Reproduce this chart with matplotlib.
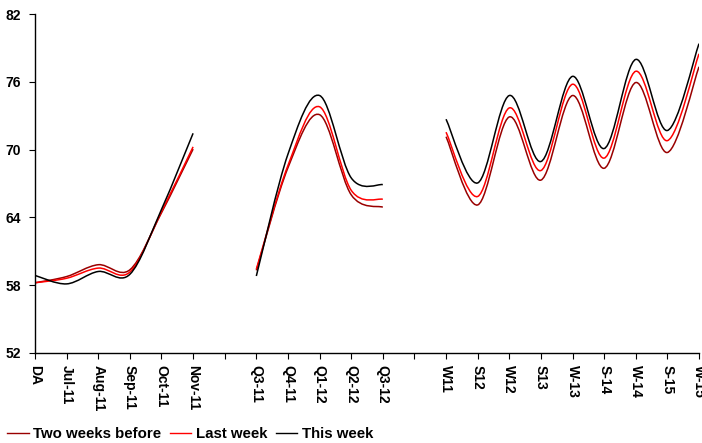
import matplotlib
matplotlib.use('Agg')
import matplotlib.pyplot as plt
from matplotlib.path import Path
from matplotlib.patches import PathPatch
from matplotlib.lines import Line2D

plt.rcParams['font.family'] = ['Liberation Sans', 'DejaVu Sans']
plt.rcParams['font.weight'] = 'bold'

categorias = ['DA', 'Jul-11', 'Aug-11', 'Sep-11', 'Oct-11', 'Nov-11', '',
              'Q3-11', 'Q4-11', 'Q1-12', 'Q2-12', 'Q3-12', '',
              'W11', 'S12', 'W12', 'S13', 'W-13', 'S-14', 'W-14', 'S-15', 'W-15']

duas_semanas = [58.2, 58.75, 59.8, 59.35, 64.4, 70.05, None,
                59.3, 68.4, 73.1, 66.0, 64.9, None,
                71.15, 65.1, 72.9, 67.3, 74.8, 68.35, 75.95, 69.75, 77.35]
semana_passada = [58.2, 58.6, 59.5, 59.15, 64.5, 70.25, None,
                  59.4, 68.6, 73.8, 66.4, 65.6, None,
                  71.55, 65.85, 73.7, 68.15, 75.8, 69.25, 76.95, 70.8, 78.5]
esta_semana = [58.85, 58.1, 59.2, 58.95, 64.7, 71.45, None,
               58.8, 69.6, 74.8, 67.5, 66.9, None,
               72.7, 67.05, 74.8, 68.95, 76.5, 70.1, 78.0, 71.7, 79.4]

series = [('Two weeks before', duas_semanas, '#990000'),
          ('Last week', semana_passada, '#FF0000'),
          ('This week', esta_semana, '#000000')]


def caminho_suave(xs, ys):
    # curva tipo "linha suavizada" do Excel (bezier pelos pontos)
    verts = [(xs[0], ys[0])]
    codes = [Path.MOVETO]
    n = len(xs)
    for i in range(n - 1):
        a = max(i - 1, 0)
        b = min(i + 2, n - 1)
        c1 = (xs[i] + (xs[i + 1] - xs[a]) / 6, ys[i] + (ys[i + 1] - ys[a]) / 6)
        c2 = (xs[i + 1] - (xs[b] - xs[i]) / 6, ys[i + 1] - (ys[b] - ys[i]) / 6)
        verts += [c1, c2, (xs[i + 1], ys[i + 1])]
        codes += [Path.CURVE4] * 3
    return Path(verts, codes)


def segmentos(valores):
    xs, ys = [], []
    for i, v in enumerate(valores):
        if v is None:
            if xs:
                yield xs, ys
            xs, ys = [], []
        else:
            xs.append(i)
            ys.append(v)
    if xs:
        yield xs, ys


fig = plt.figure(figsize=(7.02, 4.43), dpi=100)
ax = fig.add_axes([35 / 702, 1 - 352.7 / 443, 664 / 702, 338.4 / 443])

handles = []
for nome, valores, cor in series:
    for xs, ys in segmentos(valores):
        ax.add_patch(PathPatch(caminho_suave(xs, ys), fill=False,
                               edgecolor=cor, lw=1.1))
    handles.append(Line2D([], [], color=cor, lw=1.0, label=nome))

ax.set_xlim(0, len(categorias) - 1)
ax.set_ylim(52, 82)
ax.set_yticks(range(52, 83, 6))
ax.set_xticks(range(len(categorias)))
ax.set_xticklabels(categorias, rotation=-90, va='top', ha='center')

for lado in ['top', 'right']:
    ax.spines[lado].set_visible(False)
ax.spines['left'].set_linewidth(1.0)
ax.spines['bottom'].set_linewidth(1.0)
ax.tick_params(axis='y', length=4, pad=6, labelsize=10)
ax.tick_params(axis='x', length=4, pad=5, labelsize=10)

fig.legend(handles=handles, loc='center left',
           bbox_to_anchor=(7 / 702, 1 - 434 / 443), ncol=3, frameon=False,
           fontsize=10.8, handlelength=1.45, handletextpad=0.3,
           columnspacing=0.55, borderpad=0, borderaxespad=0)

fig.savefig('out.png', dpi=100)
